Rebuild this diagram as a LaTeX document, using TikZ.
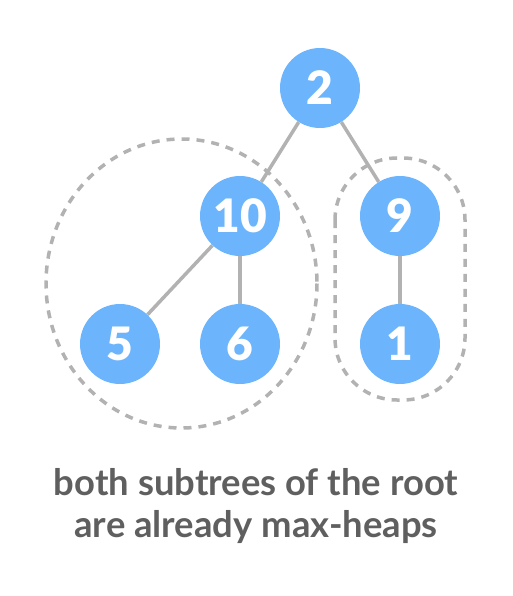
\documentclass[tikz,border=0pt]{standalone}
\usepackage{fontspec}
\setmainfont{Lato}
\newfontfamily\keyfont{Lato Black}
\definecolor{heapblue}{RGB}{108,181,252}
\definecolor{edgegray}{RGB}{178,178,178}
\definecolor{textgray}{RGB}{95,95,95}
\begin{document}
\begin{tikzpicture}[x=1pt,y=-1pt,
  key/.style={circle,fill=heapblue,minimum size=80pt,inner sep=0pt,text=white,font=\fontsize{46}{46}\keyfont},
  link/.style={edgegray,line width=3.5pt},
  group/.style={edgegray,line width=3.5pt,dash pattern=on 8pt off 7pt}]
\useasboundingbox (0,0) rectangle (512,596);
\draw [group] (181.5,283.5) ellipse [x radius=135.5, y radius=144.5];
\draw [group, rounded corners=62pt] (335,158) rectangle (465,400);
\node[key] (root) at (320,88) {2};
\node[key] (ten) at (240,216) {10};
\node[key] (nine) at (400,216) {9};
\node[key] (five) at (120,344) {5};
\node[key] (six) at (240,344) {6};
\node[key] (one) at (400,344) {1};
\draw [link] (root) -- (ten);
\draw [link] (root) -- (nine);
\draw [link] (ten) -- (five);
\draw [link] (ten) -- (six);
\draw [link] (nine) -- (one);
\node[text=textgray,align=center,font=\fontsize{36.4}{42}\selectfont\bfseries] (caption) at (256,506) {both subtrees of the root\\are already max-heaps};
\end{tikzpicture}
\end{document}
